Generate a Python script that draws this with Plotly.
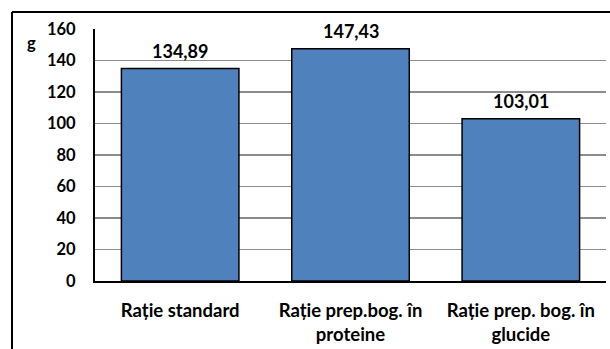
import plotly.graph_objects as go

categories = ["Rație standard", "Rație prep.bog. în<br>proteine", "Rație prep. bog. în<br>glucide"]
values = [134.89, 147.43, 103.01]
y_ticks = [0, 20, 40, 60, 80, 100, 120, 140, 160]
unit_label = "g"

W, H = 610, 349
ML, MR, MT, MB = 95, 4, 29, 68
FONT_Y = dict(family="Lato", size=16.5, color="#000000")
FONT_VAL = dict(family="Lato", size=18, color="#000000")
FONT_X = dict(family="Lato", size=18.5, color="#000000")

x_pos = list(range(len(categories)))

fig = go.Figure()
fig.add_trace(go.Bar(
    x=x_pos,
    y=values,
    width=0.69,
    marker=dict(color="#4F81BD", line=dict(color="#000000", width=1.5)),
    hoverinfo="skip",
))

# value labels above bars
for xi, v in zip(x_pos, values):
    fig.add_annotation(
        x=xi, y=v, xref="x", yref="y",
        text="<b>" + f"{v:.2f}".replace(".", ",") + "</b>",
        showarrow=False, yanchor="bottom", yshift=5,
        font=FONT_VAL,
    )

# pixel -> paper coordinate helpers
pw = W - ML - MR
ph = H - MT - MB
def px_to_paper_x(px):
    return (px - ML) / pw
def px_to_paper_y(py):
    return 1 - (py - MT) / ph

# unit label beside the y axis
fig.add_annotation(
    x=px_to_paper_x(31), y=px_to_paper_y(43), xref="paper", yref="paper",
    text="<b>" + unit_label + "</b>", showarrow=False,
    xanchor="center", yanchor="middle", font=FONT_Y,
)

# outer chart frame (left and top edges, running to the page edges)
fx, fy = px_to_paper_x(12), px_to_paper_y(12)
fig.add_shape(type="line", xref="paper", yref="paper",
              x0=fx, x1=fx, y0=px_to_paper_y(H), y1=fy,
              line=dict(color="#000000", width=2), layer="above")
fig.add_shape(type="line", xref="paper", yref="paper",
              x0=fx, x1=px_to_paper_x(W), y0=fy, y1=fy,
              line=dict(color="#000000", width=2), layer="above")

fig.update_layout(
    width=W, height=H,
    margin=dict(l=ML, r=MR, t=MT, b=MB, autoexpand=False),
    paper_bgcolor="white", plot_bgcolor="white",
    showlegend=False,
    font=FONT_Y,
    bargap=0,
    xaxis=dict(
        range=[-0.5, len(categories) - 0.5],
        tickvals=x_pos,
        ticktext=["<b>" + c + "</b>" for c in categories],
        showgrid=False, zeroline=False,
        showline=True, linecolor="#000000", linewidth=2,
        ticks="", ticklabelstandoff=12,
        tickfont=FONT_X, automargin=False,
    ),
    yaxis=dict(
        range=[0, 160],
        tickvals=y_ticks,
        ticktext=["<b>%d</b>" % t for t in y_ticks],
        showgrid=True, gridcolor="#8c8c8c", gridwidth=1.5,
        zeroline=False,
        showline=True, linecolor="#000000", linewidth=2,
        ticks="", ticklabelstandoff=14,
        tickfont=FONT_Y, automargin=False,
    ),
)

fig.write_html("out.html", config={"displayModeBar": False, "staticPlot": True})
